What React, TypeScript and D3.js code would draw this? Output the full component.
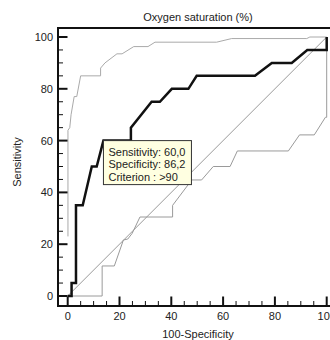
import React, { useEffect, useRef } from "react";
import * as d3 from "d3";

const title = "Oxygen saturation (%)";
const xLabel = "100-Specificity";
const yLabel = "Sensitivity";
const xTicks = [0, 20, 40, 60, 80, 100];
const yTicks = [0, 20, 40, 60, 80, 100];

const rocX = [0, 1.5, 1.5, 3.2, 3.2, 5.8, 9.3, 11.2, 13.8, 24.4, 24.4, 32.4, 35.6, 40.2, 46.6, 49.8, 72.3, 78.8, 86.5, 92.5, 100, 100];
const rocY = [0, 0, 5, 5, 35, 35, 50, 50, 60, 60, 65, 75, 75, 80, 80, 85, 85, 90, 90, 95, 95, 100];

const upperX = [0.1, 0.1, 0.8, 1.3, 2.5, 3.5, 5, 12.7, 12.7, 14.4, 19, 21, 25.5, 31, 33.7, 57.5, 63.3, 92.3, 93.5, 100];
const upperY = [23, 64, 65, 70, 77, 77, 85, 85, 88, 90, 93.5, 93.5, 96.3, 96.3, 98, 98, 99.4, 99.4, 100, 100];

const lowerX = [0.1, 13.3, 13.3, 18, 21.5, 23.2, 24.9, 27.9, 40.5, 40.5, 47.9, 51.7, 56.2, 62.7, 65.5, 85.2, 89.5, 95.2, 99.5, 100, 100];
const lowerY = [0, 0, 11.6, 11.6, 21.6, 22, 24.2, 30.5, 30.5, 35, 44.8, 44.8, 50, 50, 56, 56, 62.2, 62.2, 69, 69, 100];

const critX = 13.8;
const critY = 60;
const tipLines = ["Sensitivity: 60,0", "Specificity: 86,2", "Criterion : >90"];

export default function App() {
  const ref = useRef<SVGSVGElement>(null);
  useEffect(() => {
    const svg = d3.select(ref.current);
    svg.selectAll("*").remove();
    const font = "'Liberation Sans', Arial, sans-serif";
    const x = d3.scaleLinear().domain([0, 100]).range([67.7, 326.7]);
    const y = d3.scaleLinear().domain([0, 100]).range([296, 37]);
    const axL = 58, axB = 306, frameT = 28;
    const txt = "#222";

    const line = d3.line<[number, number]>().x(d => x(d[0])).y(d => y(d[1]));
    const pairs = (a: number[], b: number[]) => a.map((v, i) => [v, b[i]] as [number, number]);

    // diagonal
    svg.append("path").attr("d", line([[0, 0], [100, 100]]))
      .attr("fill", "none").attr("stroke", "#9a9a9a").attr("stroke-width", 1);
    // bands
    svg.append("path").attr("d", line(pairs(upperX, upperY)))
      .attr("fill", "none").attr("stroke", "#aaaaaa").attr("stroke-width", 1);
    svg.append("path").attr("d", line(pairs(lowerX, lowerY)))
      .attr("fill", "none").attr("stroke", "#9a9a9a").attr("stroke-width", 1);
    // roc
    svg.append("path").attr("d", line(pairs(rocX, rocY)))
      .attr("fill", "none").attr("stroke", "#111").attr("stroke-width", 2.5)
      .attr("stroke-linejoin", "miter");

    // frame / axes
    svg.append("line").attr("x1", axL).attr("x2", 340).attr("y1", frameT).attr("y2", frameT)
      .attr("stroke", "#111").attr("stroke-width", 2);
    svg.append("line").attr("x1", axL).attr("x2", axL).attr("y1", frameT - 1).attr("y2", axB + 1)
      .attr("stroke", "#111").attr("stroke-width", 2);
    svg.append("line").attr("x1", axL - 1).attr("x2", 340).attr("y1", axB).attr("y2", axB)
      .attr("stroke", "#111").attr("stroke-width", 2);

    // y ticks
    for (let v = 0; v <= 100; v += 5) {
      const major = v % 20 === 0;
      svg.append("line").attr("x1", axL).attr("x2", axL + (major ? 9.5 : 5))
        .attr("y1", y(v)).attr("y2", y(v))
        .attr("stroke", "#111").attr("stroke-width", major ? 2 : 1);
    }
    // x ticks
    for (let v = 0; v <= 100; v += 5) {
      const major = v % 20 === 0;
      svg.append("line").attr("y1", axB).attr("y2", axB - (major ? 9.5 : 5))
        .attr("x1", x(v)).attr("x2", x(v))
        .attr("stroke", "#111").attr("stroke-width", major ? 2 : 1);
    }
    yTicks.forEach(v => {
      svg.append("text").attr("x", 53).attr("y", y(v) + 4).attr("text-anchor", "end")
        .attr("font-family", font).attr("font-size", 11).attr("fill", txt).text(String(v));
    });
    xTicks.forEach(v => {
      svg.append("text").attr("x", x(v)).attr("y", 320).attr("text-anchor", "middle")
        .attr("font-family", font).attr("font-size", 11).attr("fill", txt).text(String(v));
    });

    svg.append("text").attr("x", 198).attr("y", 21).attr("text-anchor", "middle")
      .attr("font-family", font).attr("font-size", 11).attr("fill", txt).text(title);
    svg.append("text").attr("x", 198).attr("y", 338).attr("text-anchor", "middle")
      .attr("font-family", font).attr("font-size", 11).attr("fill", txt).text(xLabel);
    svg.append("text").attr("transform", "translate(21,162) rotate(-90)").attr("text-anchor", "middle")
      .attr("font-family", font).attr("font-size", 11).attr("fill", txt).text(yLabel);

    // tooltip
    const bx = x(critX), by = y(critY);
    svg.append("rect").attr("x", bx).attr("y", by).attr("width", 88).attr("height", 44)
      .attr("fill", "#ffffe1").attr("stroke", "#333").attr("stroke-width", 1);
    tipLines.forEach((t, i) => {
      svg.append("text").attr("x", bx + 5).attr("y", by + 15 + i * 12.5)
        .attr("font-family", font).attr("font-size", 11).attr("fill", txt).text(t);
    });
  }, []);
  return (
    <svg ref={ref} width={330} height={340}
      style={{ position: "absolute", left: 0, top: 0, background: "#fff" }} />
  );
}
